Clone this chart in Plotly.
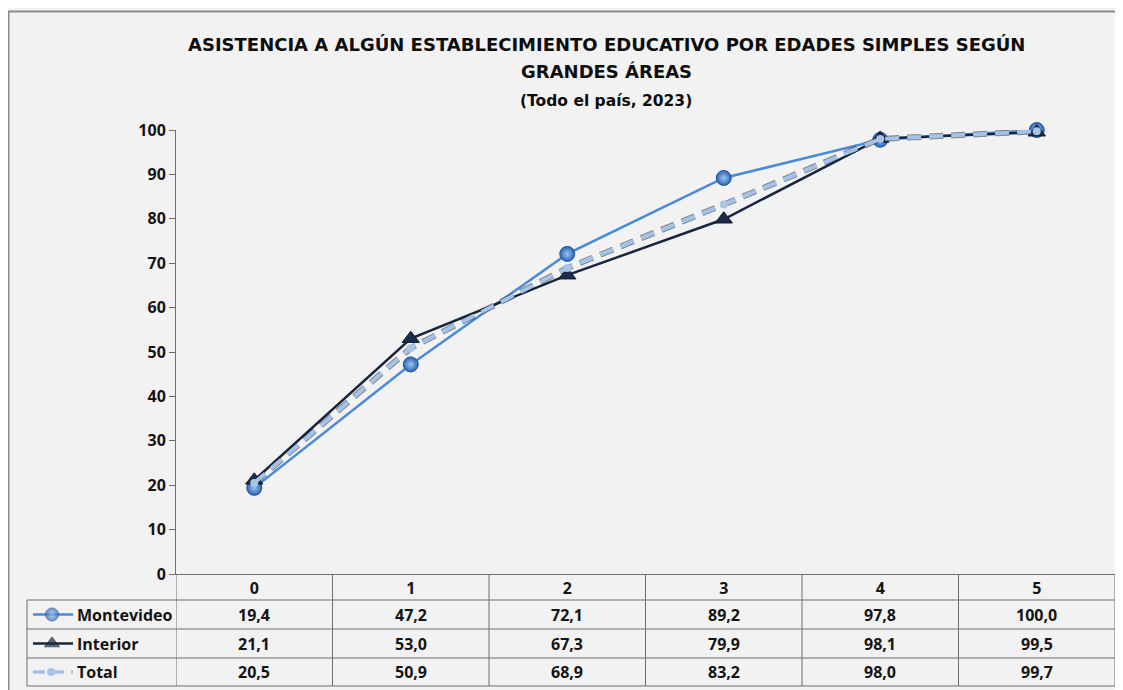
import plotly.graph_objects as go

edades = ["0", "1", "2", "3", "4", "5"]
montevideo = [19.4, 47.2, 72.1, 89.2, 97.8, 100.0]
interior = [21.1, 53.0, 67.3, 79.9, 98.1, 99.5]
total = [20.5, 50.9, 68.9, 83.2, 98.0, 99.7]
series_names = ["Montevideo", "Interior", "Total"]
y_ticks = [0, 10, 20, 30, 40, 50, 60, 70, 80, 90, 100]

# la página pone 8px de margen al cuerpo: se trabaja en pixeles de la referencia
OFF = 8
W, H = 1115, 682
ML, MR, MT, MB = 27 - OFF, 8, 130 - OFF, 4
PW, PH = W - ML - MR, H - MT - MB


def px(x):
    return (x - OFF - ML) / PW


def py(y):
    return (H - MB - (y - OFF)) / PH


FONT = "Open Sans"
TFONT = "DejaVu Sans"
grid = "#6e6e6e"
txt = "#141414"
x_idx = list(range(len(edades)))

styles = {
    "Montevideo": dict(line=dict(color="#4a8ad8", width=2.5),
                       marker=dict(symbol="circle", size=15, color="#2a64b4",
                                   gradient=dict(type="radial", color="#9cc4f0"),
                                   line=dict(color="#23569c", width=1))),
    "Interior": dict(line=dict(color="#17253d", width=2.5),
                     marker=dict(symbol="triangle-up", size=15, color="#1b2c48",
                                 line=dict(color="#101a2c", width=1))),
    "Total": dict(line=dict(color="#a2c2ea", width=4, dash="14px,8px"),
                  marker=dict(symbol="circle", size=8, color="#a8c5e6")),
}
shadow = dict(color="rgba(30,30,30,0.5)", width=6, dash="14px,8px")

fig = go.Figure()

for name, vals in zip(series_names, [montevideo, interior, total]):
    if name == "Total":
        fig.add_trace(go.Scatter(x=x_idx, y=vals, mode="lines", showlegend=False,
                                 hoverinfo="skip", line=shadow, cliponaxis=False))
    fig.add_trace(go.Scatter(x=x_idx, y=vals, name=name, mode="lines+markers",
                             showlegend=False, cliponaxis=False, **styles[name]))

# muestras de la leyenda dentro de la tabla
row_y = [614.5, 643.5, 672]
for name, ry in zip(series_names, row_y):
    st = styles[name]
    mk = dict(st["marker"])
    if name == "Total":
        fig.add_trace(go.Scatter(x=[33, 73], y=[ry, ry], mode="lines",
                                 xaxis="x2", yaxis="y2", showlegend=False,
                                 hoverinfo="skip",
                                 line=dict(color="#a2c2ea", width=3.5, dash="12px,7px")))
        fig.add_trace(go.Scatter(x=[51], y=[ry], mode="markers", xaxis="x2", yaxis="y2",
                                 showlegend=False, hoverinfo="skip", marker=mk))
    else:
        fig.add_trace(go.Scatter(x=[33, 52, 73], y=[ry, ry, ry], mode="lines+markers",
                                 xaxis="x2", yaxis="y2", showlegend=False,
                                 hoverinfo="skip", line=st["line"],
                                 marker=dict(mk, size=[0, 13, 0])))

shapes = []
# marco exterior
shapes.append(dict(type="rect", xref="paper", yref="paper",
                   x0=px(8.5), x1=px(1160), y0=py(720), y1=py(11.5),
                   line=dict(color="#8c8c8c", width=2)))
# filas de la tabla
for yy in [600, 629, 658, 686]:
    shapes.append(dict(type="line", xref="paper", yref="paper",
                       x0=px(27), x1=px(1115), y0=py(yy), y1=py(yy),
                       line=dict(color=grid, width=1)))
# columnas de la tabla
for k in range(len(edades) + 1):
    shapes.append(dict(type="line", xref="x", yref="paper",
                       x0=k - 0.5, x1=k - 0.5, y0=py(686), y1=py(574),
                       line=dict(color=grid, width=1)))
shapes.append(dict(type="line", xref="paper", yref="paper",
                   x0=px(27), x1=px(27), y0=py(686), y1=py(600),
                   line=dict(color=grid, width=1)))

annotations = []
for vals, ry in zip([montevideo, interior, total], row_y):
    for i, v in enumerate(vals):
        annotations.append(dict(
            x=i, y=py(ry), xref="x", yref="paper", showarrow=False,
            yanchor="middle", text=f"<b>{v:.1f}</b>".replace(".", ","),
            font=dict(family=FONT, size=16, color=txt)))
for name, ry in zip(series_names, row_y):
    annotations.append(dict(
        x=px(75), y=py(ry), xref="paper", yref="paper", showarrow=False,
        xanchor="left", yanchor="middle", text=f"<b>{name}</b>",
        font=dict(family=FONT, size=16, color=txt)))

annotations.append(dict(x=px(606), y=py(44), xref="paper", yref="paper",
                        xanchor="center", yanchor="middle", showarrow=False,
                        text="<b>ASISTENCIA A ALGÚN ESTABLECIMIENTO EDUCATIVO POR EDADES SIMPLES SEGÚN</b>",
                        font=dict(family=TFONT, size=18, color="#0d0d0d")))
annotations.append(dict(x=px(606), y=py(71), xref="paper", yref="paper",
                        xanchor="center", yanchor="middle", showarrow=False,
                        text="<b>GRANDES ÁREAS</b>",
                        font=dict(family=TFONT, size=18, color="#0d0d0d")))
annotations.append(dict(x=px(606), y=py(101), xref="paper", yref="paper",
                        xanchor="center", yanchor="middle", showarrow=False,
                        text="<b>(Todo el país, 2023)</b>",
                        font=dict(family=TFONT, size=15.5, color="#0d0d0d")))

fig.update_layout(
    width=W, height=H,
    margin=dict(l=ML, r=MR, t=MT, b=MB, autoexpand=False),
    paper_bgcolor="#f2f2f2", plot_bgcolor="#f2f2f2",
    font=dict(family=FONT, size=16, color=txt),
    shapes=shapes, annotations=annotations,
    showlegend=False,
    xaxis=dict(domain=[px(176), 1], range=[-0.5, 5.5], automargin=False,
               tickmode="array", tickvals=x_idx,
               ticktext=[f"<b>{e}</b>" for e in edades],
               showgrid=False, zeroline=False, showline=True,
               linecolor=grid, linewidth=1, ticks="",
               tickfont=dict(family=FONT, size=16, color=txt)),
    yaxis=dict(domain=[py(574), 1], range=[0, 100], automargin=False,
               tickmode="array", tickvals=y_ticks,
               ticktext=[f"<b>{t}</b>" for t in y_ticks],
               showgrid=False, zeroline=False, showline=True,
               linecolor=grid, linewidth=1, ticks="outside", ticklen=6,
               tickcolor=grid,
               tickfont=dict(family=FONT, size=16, color=txt)),
    xaxis2=dict(domain=[0, px(176)], range=[27, 176], visible=False,
                fixedrange=True, automargin=False),
    yaxis2=dict(domain=[0, py(600)], range=[686, 600], visible=False,
                fixedrange=True, anchor="x2", automargin=False),
)

fig.write_html("out.html")
